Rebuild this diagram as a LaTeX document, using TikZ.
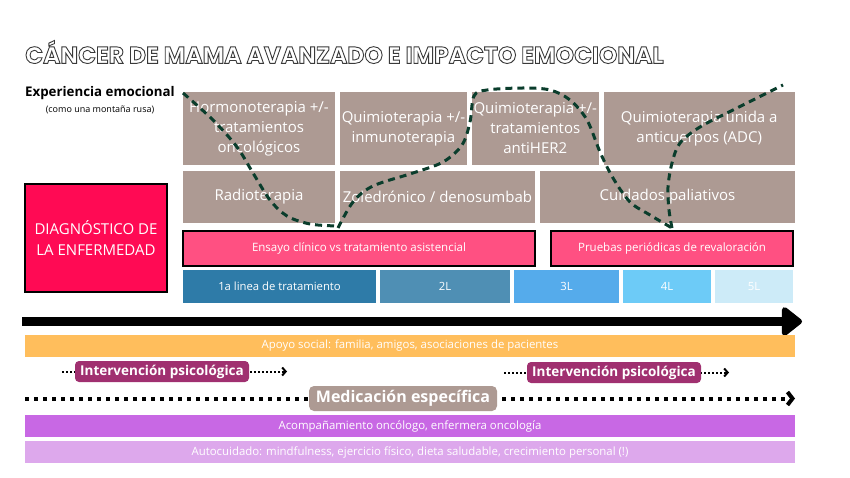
\documentclass[tikz,border=0pt]{standalone}
\usepackage{fontspec}
\setmainfont{Open Sans}
\newfontfamily\titlefont{Poppins}
\usetikzlibrary{arrows.meta}
\definecolor{brownbox}{HTML}{AD9A93}
\definecolor{diagred}{HTML}{FF0A54}
\definecolor{pinkbox}{HTML}{FF5082}
\definecolor{lineA}{HTML}{2E7BA8}
\definecolor{lineB}{HTML}{4F8FB4}
\definecolor{lineC}{HTML}{55ABEB}
\definecolor{lineD}{HTML}{6DCBF7}
\definecolor{lineE}{HTML}{CDEBF8}
\definecolor{orangebar}{HTML}{FFBE5C}
\definecolor{intervcol}{HTML}{A03070}
\definecolor{purplebar}{HTML}{C868E4}
\definecolor{lpurplebar}{HTML}{DDA8EC}
\definecolor{greendash}{HTML}{0A3D2C}
\definecolor{titlegray}{HTML}{3A3A3A}
\tikzset{
  base/.style={inner sep=0pt, outer sep=0pt, align=center, text=white},
  tbox/.style={base, fill=brownbox, font=\fontsize{15}{20}\selectfont},
  pbox/.style={base, fill=pinkbox, draw=black, line width=1.2pt, font=\fontsize{11.5}{13}\selectfont},
  lbox/.style={base, minimum height=32.5pt, font=\fontsize{11.3}{13}\selectfont},
  bar/.style={base, minimum width=770pt, minimum height=22pt, font=\fontsize{11.4}{13}\selectfont},
  tag/.style={base, fill=intervcol, rounded corners=4pt, minimum width=174pt, minimum height=21pt, font=\bfseries\fontsize{13.5}{15}\selectfont},
  dotarrow/.style={line width=2pt, dash pattern=on 2pt off 2pt, -{Straight Barb[length=3.5pt,width=8pt]}},
  bigdot/.style={line width=4pt, dash pattern=on 4pt off 5pt, -{Straight Barb[length=5pt,width=13pt]}},
  emocurve/.style={greendash, line width=3pt, dash pattern=on 7pt off 5pt},
}
\begin{document}
\begin{tikzpicture}[x=1pt,y=-1pt]
\useasboundingbox (0,0) rectangle (850,478);
\fill[white] (0,0) rectangle (850,478);

% title
\node[anchor=west, inner sep=0pt, text=titlegray] (title) at (25,52)
  {\titlefont\bfseries\fontsize{23.5}{24}\selectfont\special{pdf:literal 1 Tr 0.9 w}CÁNCER DE MAMA AVANZADO E IMPACTO EMOCIONAL\special{pdf:literal 0 Tr}};

\node[inner sep=0pt, font=\bfseries\fontsize{13.3}{15}\selectfont] (exp) at (100,93) {Experiencia emocional};
\node[inner sep=0pt, font=\fontsize{9}{10}\selectfont] (exp2) at (100,110) {(como una montaña rusa)};

% row 1
\node[tbox, minimum width=152pt, minimum height=73pt] (b1) at (259,128.5) {Hormonoterapia +/-\\tratamientos\\oncológicos};
\node[tbox, minimum width=127pt, minimum height=73pt] (b2) at (403.5,128.5) {Quimioterapia +/-\\inmunoterapia};
\node[tbox, minimum width=127.5pt, minimum height=73pt] (b3) at (535.25,128.5) {Quimioterapia +/-\\tratamientos\\antiHER2};
\node[tbox, minimum width=190.5pt, minimum height=73pt] (b4) at (699.25,128.5) {Quimioterapia unida a\\anticuerpos (ADC)};
% row 2
\node[tbox, minimum width=152pt, minimum height=52pt] (r1) at (259,197) {Radioterapia};
\node[tbox, minimum width=195pt, minimum height=52pt] (r2) at (437.5,197) {Zoledrónico / denosumbab};
\node[tbox, minimum width=255pt, minimum height=52pt] (r3) at (667.5,197) {Cuidados paliativos};
% pink
\node[pbox, minimum width=352pt, minimum height=35pt] (p1) at (359,248.5) {Ensayo clínico vs tratamiento asistencial};
\node[pbox, minimum width=242pt, minimum height=35pt] (p2) at (672,248.5) {Pruebas periódicas de revaloración};
% diagnosis
\node[base, fill=diagred, draw=black, line width=1.2pt, minimum width=142pt, minimum height=108pt, font=\fontsize{15}{21}\selectfont] (diag) at (96,238) {DIAGNÓSTICO DE\\LA ENFERMEDAD};
% lines
\node[lbox, fill=lineA, minimum width=193pt] (l1) at (279.5,286.25) {1a linea de tratamiento};
\node[lbox, fill=lineB, minimum width=130pt] (l2) at (445,286.25) {2L};
\node[lbox, fill=lineC, minimum width=105pt] (l3) at (566.5,286.25) {3L};
\node[lbox, fill=lineD, minimum width=88pt] (l4) at (667,286.25) {4L};
\node[lbox, fill=lineE, minimum width=78pt] (l5) at (754,286.25) {5L};

% big arrow
\coordinate (axA) at (22,321.5);
\coordinate (axB) at (802,321.5);
\draw[line width=9pt, -{Triangle[length=22pt,width=33pt,round]}] (axA) -- (axB);

% bars
\node[bar, fill=orangebar] (social) at (410,346) {Apoyo social: familia, amigos, asociaciones de pacientes};
\node[bar, fill=purplebar] (acomp) at (410,426) {Acompañamiento oncólogo, enfermera oncología};
\node[bar, fill=lpurplebar] (auto) at (410,452) {Autocuidado: mindfulness, ejercicio físico, dieta saludable, crecimiento personal (!)};

% psychological intervention
\coordinate (i1a) at (62,371.5);
\coordinate (i1b) at (287,371.5);
\draw[dotarrow] (i1a) -- (i1b);
\node[tag] (interv1) at (162,371.5) {Intervención psicológica};
\coordinate (i2a) at (504,372.5);
\coordinate (i2b) at (729,372.5);
\draw[dotarrow] (i2a) -- (i2b);
\node[tag] (interv2) at (614,372.5) {Intervención psicológica};

% medication
\coordinate (mA) at (25,398.5);
\coordinate (mB) at (795,398.5);
\draw[bigdot] (mA) -- (mB);
\node[base, fill=brownbox, rounded corners=5pt, minimum width=188pt, minimum height=25pt, font=\bfseries\fontsize{16}{18}\selectfont] (med) at (403,398.5) {Medicación específica};

% emotional roller coaster
\draw[emocurve] plot[smooth, tension=0.55] coordinates {(183,93) (213,120) (237,147) (253,173) (270,200) (287,216) (310,224) (337,226)};
\draw[emocurve] plot[smooth, tension=0.55] coordinates {(338,228) (353,202) (373,186) (413,173) (443,162) (462,145) (470,122) (474,96) (487,90) (523,88) (550,90) (570,100) (587,120) (600,152) (613,178) (630,202) (650,215) (672,228)};
\draw[emocurve] plot[smooth, tension=0.55] coordinates {(672,228) (669,210) (668,187) (672,163) (680,143) (700,127) (733,110) (783,85)};
\end{tikzpicture}
\end{document}
